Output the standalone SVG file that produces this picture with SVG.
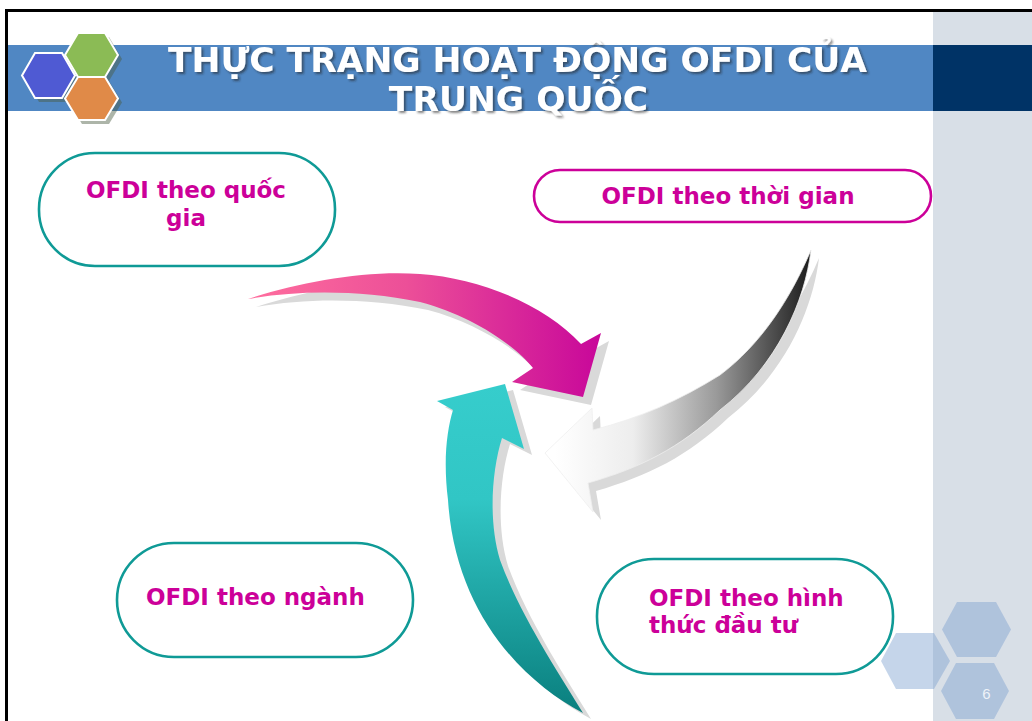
<svg xmlns="http://www.w3.org/2000/svg" xmlns:xlink="http://www.w3.org/1999/xlink" width="1032" height="721" viewBox="0 0 1032 721">
<style>
.title{font-family:"DejaVu Sans",Verdana,sans-serif;font-weight:bold;font-size:34.5px;fill:#FFFFFF;text-anchor:middle}
.lbl{font-family:"DejaVu Sans",Verdana,sans-serif;font-weight:bold;font-size:23px;fill:#CC0099}
.pill{fill:#FFFFFF;stroke:#0F9A96;stroke-width:2.6}
.pillm{fill:#FFFFFF;stroke:#CC0099;stroke-width:2.6}
.hexs{fill:#4A5A40;opacity:0.45}
.hexw{stroke:#FFFFFF;stroke-width:2}
.deco{fill:#7A9FCF;fill-opacity:0.44}
.shadow{fill:#D9D9D9}
</style>
<defs>
<filter id="ts" x="-5%" y="-20%" width="110%" height="150%">
<feDropShadow dx="2" dy="2" stdDeviation="1.2" flood-color="#222222" flood-opacity="0.55"/>
</filter>
<linearGradient id="gPink" gradientUnits="userSpaceOnUse" x1="248" y1="0" x2="601" y2="0">
<stop offset="0" stop-color="#FF6E9E"/>
<stop offset="0.45" stop-color="#EC4F98"/>
<stop offset="1" stop-color="#C8079A"/>
</linearGradient>
<linearGradient id="gGray" gradientUnits="userSpaceOnUse" x1="555" y1="0" x2="815" y2="0">
<stop offset="0" stop-color="#FFFFFF"/>
<stop offset="0.3" stop-color="#EDEDED"/>
<stop offset="0.62" stop-color="#9A9A9A"/>
<stop offset="1" stop-color="#161616"/>
</linearGradient>
<linearGradient id="gTeal" gradientUnits="userSpaceOnUse" x1="0" y1="384" x2="0" y2="713">
<stop offset="0" stop-color="#36CDCC"/>
<stop offset="0.35" stop-color="#31C6C5"/>
<stop offset="1" stop-color="#0A7F7E"/>
</linearGradient>
<path id="a1" d="M248,299 C300,282 365,270 420,274 C480,278 545,305 581,344 L601,333 L583,397 L512,382 L533,368 C515,345 470,315 420,302 C360,290 300,290 248,299 Z"/>
<path id="a2" d="M811,250 C805,300 778,365 720,410 C680,448 640,468 588,483 L593,512 L545,453 L592,408 L593,430 C640,418 680,400 720,375 C760,345 790,300 811,250 Z"/>
<path id="a3" d="M583,713 C520,680 455,610 448,500 C443,460 447,430 453,410 L437,401 L505,384 L524,449 L502,438 C492,470 488,520 500,560 C520,615 560,675 583,713 Z"/>
</defs>

<rect x="0" y="0" width="1032" height="721" fill="#FFFFFF"/>

<g id="frame">
<rect x="933" y="12" width="99" height="709" fill="#D8DFE7"/>
<rect x="5" y="9" width="1027" height="3" fill="#000000"/>
<rect x="5" y="9" width="3" height="712" fill="#000000"/>
</g>

<g id="header">
<rect x="8" y="45" width="925" height="66" fill="#5087C3"/>
<rect x="933" y="45" width="99" height="66" fill="#003366"/>
<g id="hexagons">
<polygon class="hexs" points="26,79.5 39,57 66,57 79,79.5 66,102 39,102"/>
<polygon class="hexs" points="69,59 82,37 109,37 122,59 109,81 82,81"/>
<polygon class="hexs" points="69,102.5 82,81 109,81 122,102.5 109,124 82,124"/>
<polygon class="hexw" fill="#4F5AD3" points="22,75.5 35,53 62,53 75,75.5 62,98 35,98"/>
<polygon class="hexw" fill="#8BBB55" points="65,55 78,33 105,33 118,55 105,77 78,77"/>
<polygon class="hexw" fill="#E08A48" points="65,98.5 78,77 105,77 118,98.5 105,120 78,120"/>
</g>
<g filter="url(#ts)">
<text class="title" x="517.5" y="72">THỰC TRẠNG HOẠT ĐỘNG OFDI CỦA</text>
<text class="title" x="518.5" y="111">TRUNG QUỐC</text>
</g>
</g>

<g id="connectors">
<use xlink:href="#a3" class="shadow" transform="translate(8,6)"/>
<use xlink:href="#a2" class="shadow" transform="translate(8,8)"/>
<use xlink:href="#a1" class="shadow" transform="translate(8,8)"/>
<use xlink:href="#a3" fill="url(#gTeal)"/>
<use xlink:href="#a2" fill="url(#gGray)" stroke="#EFEFEF" stroke-width="0.8"/>
<use xlink:href="#a1" fill="url(#gPink)"/>
</g>

<g id="node-quocgia">
<rect class="pill" x="39" y="153" width="296" height="113" rx="56" ry="56"/>
<text class="lbl" x="186" y="198" text-anchor="middle">OFDI theo quốc</text>
<text class="lbl" x="186" y="226" text-anchor="middle">gia</text>
</g>

<g id="node-thoigian">
<rect class="pillm" x="534" y="170" width="397" height="52" rx="26" ry="26"/>
<text class="lbl" x="728" y="204" text-anchor="middle">OFDI theo thời gian</text>
</g>

<g id="node-nganh">
<rect class="pill" x="117" y="543" width="296" height="114" rx="57" ry="57"/>
<text class="lbl" x="146" y="605">OFDI theo ngành</text>
</g>

<g id="node-hinhthuc">
<rect class="pill" x="597" y="559" width="296" height="115" rx="57" ry="57"/>
<text class="lbl" x="649" y="606">OFDI theo hình</text>
<text class="lbl" x="649" y="633">thức đầu tư</text>
</g>

<g id="page-deco">
<polygon class="deco" points="881,661 896,633 934,633 950,661 934,689 896,689"/>
<polygon class="deco" points="942,629.5 957,602 996,602 1011,629.5 996,657 957,657"/>
<polygon class="deco" points="941,691 956,663 994,663 1009,691 994,719 956,719"/>
<text x="986.5" y="699" text-anchor="middle" font-family="Liberation Sans, Arial, sans-serif" font-size="15" fill="#EEF2F8">6</text>
</g>
</svg>
